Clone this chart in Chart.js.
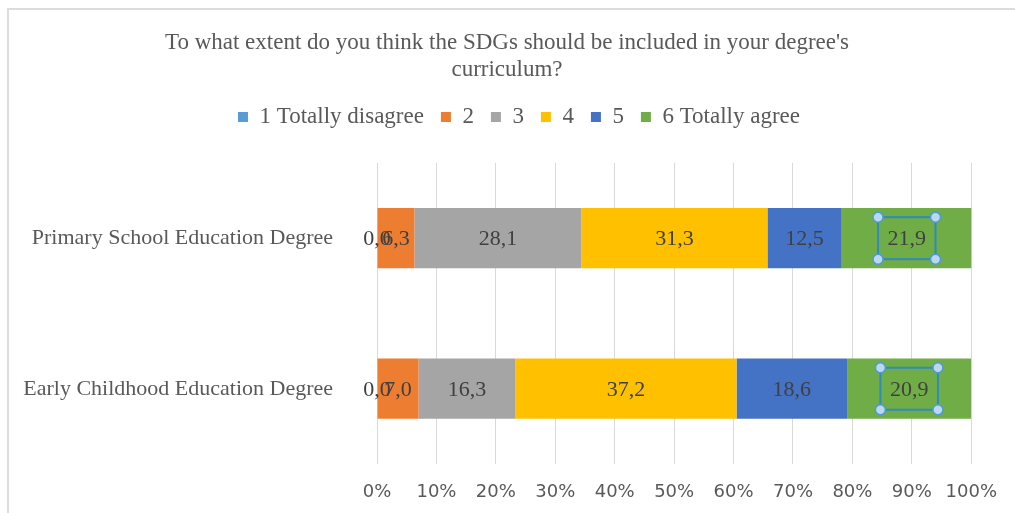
<!DOCTYPE html>
<html>
<head>
<meta charset="utf-8">
<script src="https://cdn.jsdelivr.net/npm/chart.js@4/dist/chart.umd.min.js"></script>
<style>
  html, body { margin: 0; padding: 0; background: #fff; overflow: hidden; }
  #wrap { position: relative; width: 1015px; height: 513px; overflow: hidden; }
  #frame { position: absolute; left: 7px; top: 8px; right: 0; bottom: 0; border-left: 2px solid #dcdcdc; border-top: 2px solid #dcdcdc; }
  canvas { position: absolute; left: 0; top: 0; }
</style>
</head>
<body>
<div id="wrap">
  <div id="frame"></div>
  <canvas id="c" width="1015" height="513"></canvas>
</div>
<script>
const titleLines = ["To what extent do you think the SDGs should be included in your degree's", "curriculum?"];
const categories = ["Primary School Education Degree", "Early Childhood Education Degree"];
const seriesNames = ["1 Totally disagree", "2", "3", "4", "5", "6 Totally agree"];
const s1 = [0.0, 0.0];
const s2 = [6.3, 7.0];
const s3 = [28.1, 16.3];
const s4 = [31.3, 37.2];
const s5 = [12.5, 18.6];
const s6 = [21.9, 20.9];
const seriesColors = ["#5B9BD5", "#ED7D31", "#A5A5A5", "#FFC000", "#4472C4", "#70AD47"];
const tickValues = [0, 10, 20, 30, 40, 50, 60, 70, 80, 90, 100];

const seriesValues = [s1, s2, s3, s4, s5, s6];
const SERIF = "'Liberation Serif', 'Times New Roman', serif";
const SANS = "'DejaVu Sans', Verdana, sans-serif";

const fmt = v => v.toFixed(1).replace('.', ',');

const labelPlugin = {
  id: 'barLabels',
  afterDatasetsDraw(chart) {
    const ctx = chart.ctx;
    ctx.save();
    ctx.font = "22px " + SERIF;
    ctx.textAlign = 'center';
    ctx.textBaseline = 'middle';
    chart.data.datasets.forEach((ds, di) => {
      const meta = chart.getDatasetMeta(di);
      meta.data.forEach((bar, i) => {
        const v = ds.data[i];
        const x = (bar.x + bar.base) / 2;
        const y = bar.y;
        const txt = fmt(v);
        ctx.fillStyle = '#404040';
        ctx.fillText(txt, x, y + 1);
        if (di === chart.data.datasets.length - 1) {
          // selected label frame (as in the reference screenshot)
          const w = ctx.measureText(txt).width + 19;
          const h = 42;
          const l = x - w / 2, t = y - h / 2;
          ctx.strokeStyle = '#2F8BBE';
          ctx.lineWidth = 2;
          ctx.strokeRect(l, t, w, h);
          [[l, t], [l + w, t], [l, t + h], [l + w, t + h]].forEach(p => {
            ctx.beginPath();
            ctx.arc(p[0], p[1], 5, 0, Math.PI * 2);
            ctx.fillStyle = '#BDD7EE';
            ctx.fill();
            ctx.lineWidth = 1.5;
            ctx.strokeStyle = '#4A9BD8';
            ctx.stroke();
          });
        }
      });
    });
    ctx.restore();
  }
};

function shiftDraw(box, dx) {
  const origDraw = box.draw;
  box.draw = function () {
    const ctx = this.ctx;
    ctx.save();
    ctx.translate(dx, 0);
    origDraw.apply(this, arguments);
    ctx.restore();
  };
}

const headerTweakPlugin = {
  id: 'headerTweak',
  beforeInit(chart) {
    const lg = chart.legend;
    const origFit = lg.fit;
    lg.fit = function () {
      origFit.call(this);
      this.height = 74.5;
    };
    shiftDraw(lg, 22);
    shiftDraw(chart.titleBlock, 10);
  }
};

new Chart(document.getElementById('c'), {
  type: 'bar',
  data: {
    labels: categories,
    datasets: seriesNames.map((n, i) => ({
      label: n,
      data: seriesValues[i],
      backgroundColor: seriesColors[i],
      borderWidth: 0,
      barPercentage: 0.4,
      categoryPercentage: 1.0
    }))
  },
  options: {
    indexAxis: 'y',
    responsive: false,
    animation: false,
    devicePixelRatio: 1,
    layout: { padding: { left: 14, right: 35, top: 0, bottom: 0 } },
    plugins: {
      title: {
        display: true,
        text: titleLines,
        color: '#595959',
        font: { family: SERIF, size: 23, weight: 'normal', lineHeight: 1.15 },
        padding: { top: 30, bottom: 5.5 }
      },
      legend: {
        display: true,
        position: 'top',
        labels: {
          color: '#595959',
          font: { family: SERIF, size: 23 },
          boxWidth: 10,
          boxHeight: 10,
          padding: 17
        }
      },
      tooltip: { enabled: false }
    },
    scales: {
      x: {
        stacked: true,
        min: 0,
        max: 100,
        afterBuildTicks(scale) { scale.ticks = tickValues.map(v => ({ value: v })); },
        afterFit(scale) { scale.height = 49; },
        grid: { color: '#d9d9d9', lineWidth: 1, drawTicks: false },
        border: { display: false },
        ticks: {
          color: '#595959',
          font: { family: SANS, size: 18 },
          padding: 18,
          callback: v => v + '%'
        }
      },
      y: {
        stacked: true,
        grid: { display: true, color: 'rgba(0,0,0,0)', drawOnChartArea: false, drawTicks: true, tickLength: 44 },
        border: { display: false },
        afterFit(scale) { scale.width = 363; },
        ticks: {
          color: '#595959',
          font: { family: SERIF, size: 22 },
          padding: 0
        }
      }
    }
  },
  plugins: [labelPlugin, headerTweakPlugin]
});
</script>
</body>
</html>
